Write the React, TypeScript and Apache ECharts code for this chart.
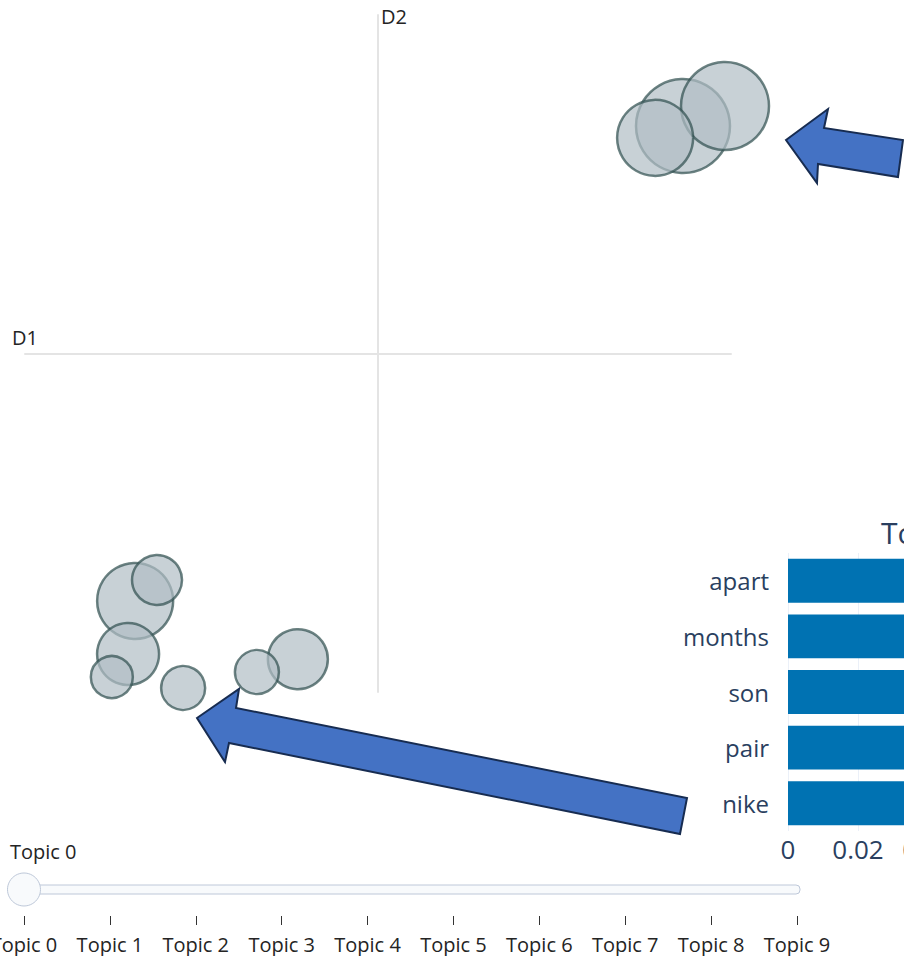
import React, { useEffect, useRef } from "react";
import * as echarts from "echarts";

// Intertopic distance map (topic coordinates in the 2-D embedding)
const topicLabels = ["Topic 0", "Topic 1", "Topic 2", "Topic 3", "Topic 4", "Topic 5", "Topic 6", "Topic 7", "Topic 8", "Topic 9"];
const topicX = [8.64, 9.83, -6.88, 7.85, -7.08, -2.27, -6.26, -5.52, -3.43, -7.54];
const topicY = [6.72, 7.31, -7.31, 6.37, -8.88, -9.03, -6.69, -9.88, -9.41, -9.56];
const topicSize = [2209, 1936, 1444, 1444, 961, 900, 625, 484, 484, 441];

// Word scores of the selected topic (bar chart)
const barWords = ["apart", "months", "son", "pair", "nike"];
const barScores = [0.086, 0.072, 0.067, 0.061, 0.058];

const FONT = "'Open Sans', verdana, arial, sans-serif";
const DARK = "rgb(36,36,36)";
const PLOTLY = "#2a3f5f";

export default function App() {
  const ref = useRef<HTMLDivElement>(null);

  useEffect(() => {
    if (!ref.current) return;
    const chart = echarts.init(ref.current, undefined, { renderer: "svg" });

    const option: any = {
      animation: false,
      backgroundColor: "#ffffff",
      title: {
        text: topicLabels[0],
        left: 876,
        top: 512,
        textStyle: { fontFamily: FONT, fontSize: 30, fontWeight: "normal", color: PLOTLY },
      },
      grid: [
        { left: 25, top: 15, width: 706, height: 677, outerBoundsMode: "none", containLabel: false },
        { left: 24, top: 863, width: 773, height: 53, outerBoundsMode: "none", containLabel: false },
        { left: 788, top: 553, width: 350, height: 278, outerBoundsMode: "none", containLabel: false },
      ],
      xAxis: [
        {
          gridIndex: 0,
          type: "value",
          min: -10,
          max: 10,
          axisLine: { show: true, onZero: true, lineStyle: { color: "#E4E4E4", width: 2 } },
          axisTick: { show: false },
          axisLabel: { show: false },
          splitLine: { show: false },
          name: "D1",
          nameLocation: "start",
          nameGap: 13,
          nameTextStyle: {
            fontFamily: FONT,
            fontSize: 20,
            color: DARK,
            align: "left",
            verticalAlign: "bottom",
            padding: [0, 0, 6, 0],
          },
        },
        {
          gridIndex: 1,
          type: "category",
          data: topicLabels,
          boundaryGap: false,
          axisLine: { show: false },
          axisTick: { show: true, length: 9, lineStyle: { color: "#333", width: 1 } },
          axisLabel: { interval: 0, margin: 18, fontFamily: FONT, fontSize: 20, color: DARK },
          splitLine: { show: false },
        },
        {
          gridIndex: 2,
          type: "value",
          min: 0,
          max: 0.1,
          interval: 0.02,
          axisLine: { show: false },
          axisTick: { show: false },
          axisLabel: { margin: 5, fontFamily: FONT, fontSize: 26, color: PLOTLY },
          splitLine: { show: true, lineStyle: { color: "#EBF0F8", width: 1 } },
        },
      ],
      yAxis: [
        {
          gridIndex: 0,
          type: "value",
          min: -10,
          max: 10,
          axisLine: { show: true, onZero: true, lineStyle: { color: "#E4E4E4", width: 2 } },
          axisTick: { show: false },
          axisLabel: { show: false },
          splitLine: { show: false },
          name: "D2",
          nameLocation: "end",
          nameGap: -1,
          nameTextStyle: {
            fontFamily: FONT,
            fontSize: 20,
            color: DARK,
            align: "left",
            verticalAlign: "middle",
            padding: [0, 0, 2, 3],
          },
        },
        { gridIndex: 1, type: "value", min: 0, max: 2, show: false },
        {
          gridIndex: 2,
          type: "category",
          data: barWords,
          inverse: true,
          axisLine: { show: false },
          axisTick: { show: false },
          axisLabel: { margin: 19, fontFamily: FONT, fontSize: 24, color: PLOTLY },
          splitLine: { show: false },
        },
      ],
      graphic: [
        {
          type: "rect",
          z: 0,
          shape: { x: 8, y: 885, width: 792, height: 9, r: 4 },
          style: { fill: "#F8FAFC", stroke: "#BEC8D9", lineWidth: 1 },
        },
        {
          type: "text",
          z: 1,
          x: 10,
          y: 851,
          style: {
            text: topicLabels[0],
            fontFamily: FONT,
            fontSize: 20,
            fill: DARK,
            verticalAlign: "middle",
          },
        },
        {
          type: "polygon",
          z: 100,
          shape: {
            points: [
              [786, 140],
              [828, 109],
              [824, 128],
              [903, 140],
              [898, 177],
              [818, 164],
              [817, 183],
            ],
          },
          style: { fill: "#4472C4", stroke: "#172C51", lineWidth: 2, lineJoin: "miter" },
        },
        {
          type: "polygon",
          z: 100,
          shape: {
            points: [
              [197, 718],
              [239, 689],
              [236, 708],
              [687, 798],
              [680, 834],
              [229, 743],
              [225, 762],
            ],
          },
          style: { fill: "#4472C4", stroke: "#172C51", lineWidth: 2, lineJoin: "miter" },
        },
      ],
      series: [
        {
          type: "scatter",
          xAxisIndex: 0,
          yAxisIndex: 0,
          clip: false,
          silent: true,
          data: topicX.map((x, i) => [x, topicY[i], topicSize[i], topicLabels[i]]),
          symbolSize: (v: any) => 2 * Math.sqrt(v[2]),
          itemStyle: { color: "#B0BEC5", borderColor: "#2F4F4F", borderWidth: 2.5, opacity: 0.7 },
        },
        {
          type: "scatter",
          xAxisIndex: 1,
          yAxisIndex: 1,
          z: 10,
          silent: true,
          data: [[topicLabels[0], 1]],
          symbolSize: 33,
          itemStyle: { color: "#F8FAFC", borderColor: "#BEC8D9", borderWidth: 1, opacity: 1 },
        },
        {
          type: "bar",
          xAxisIndex: 2,
          yAxisIndex: 2,
          silent: true,
          data: barScores,
          barCategoryGap: "21%",
          itemStyle: { color: "#0072B2" },
        },
      ],
    };

    chart.setOption(option);
    return () => chart.dispose();
  }, []);

  return (
    <div
      ref={ref}
      style={{ position: "fixed", left: 0, top: 0, width: 904, height: 956 }}
    />
  );
}
